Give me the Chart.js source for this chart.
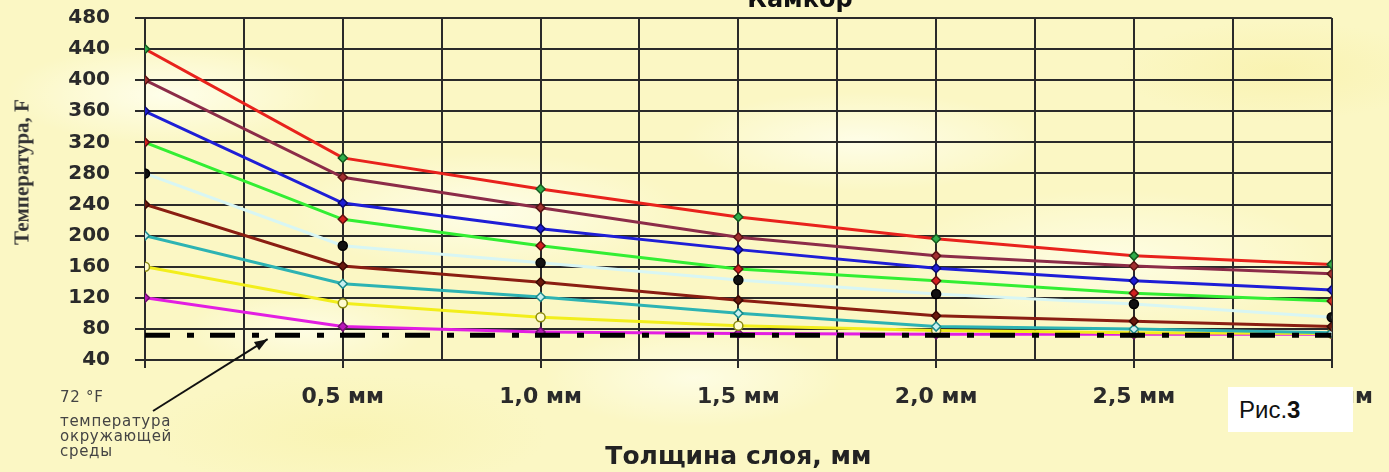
<!DOCTYPE html>
<html>
<head>
<meta charset="utf-8">
<script src="https://cdn.jsdelivr.net/npm/chart.js@4/dist/chart.umd.min.js"></script>
<style>
  html, body { margin: 0; padding: 0; }
  body {
    width: 1389px; height: 472px; overflow: hidden; position: relative;
    background-color: #fbf7c4;
    background-image:
      radial-gradient(ellipse 160px 50px at 12% 20%, rgba(255,255,238,0.9), transparent),
      radial-gradient(ellipse 200px 60px at 35% 45%, rgba(255,255,240,0.8), transparent),
      radial-gradient(ellipse 180px 50px at 62% 30%, rgba(255,255,240,0.8), transparent),
      radial-gradient(ellipse 220px 70px at 80% 55%, rgba(255,255,235,0.8), transparent),
      radial-gradient(ellipse 150px 50px at 50% 80%, rgba(255,255,240,0.7), transparent),
      radial-gradient(ellipse 120px 40px at 22% 70%, rgba(255,255,240,0.7), transparent),
      radial-gradient(ellipse 200px 60px at 25% 92%, rgba(248,242,170,0.6), transparent),
      radial-gradient(ellipse 160px 50px at 92% 15%, rgba(248,240,165,0.6), transparent);
  }
  canvas { position: absolute; left: 0; top: 0; }
  #title {
    position: absolute; top: -15px; left: 0; width: 1600px; text-align: center;
    font: bold 24px "DejaVu Sans", Arial, sans-serif; color: #111;
  }
  #ytitle {
    position: absolute; left: 22px; top: 172px; white-space: nowrap;
    transform: translate(-50%, -50%) rotate(-90deg);
    font: bold 21px "Liberation Serif", "Times New Roman", serif; color: #333;
  }
  #fig {
    position: absolute; left: 1228px; top: 387px; width: 125px; height: 45px;
    background: #fff; font: 24px Arial, "Liberation Sans", sans-serif; color: #111;
    box-sizing: border-box; padding: 9px 0 0 11px;
  }
  #note {
    position: absolute; left: 60px; top: 390px;
    font: 15px "DejaVu Sans", Arial, sans-serif; color: #444; line-height: 15px;
    letter-spacing: 0.7px;
  }
  #note .first { display: block; margin-bottom: 9px; }
</style>
</head>
<body>
<canvas id="chart" width="1389" height="472"></canvas>
<div id="title">Камкор</div>
<div id="ytitle">Температура, F</div>
<div id="note"><span class="first">72 °F</span>температура<br>окружающей<br>среды</div>
<div id="fig">Рис.<b>3</b></div>
<script>
// --- data ---
const thickness = [0, 0.5, 1.0, 1.5, 2.0, 2.5, 3.0];
const xTickLabels = ['', '0,5 мм', '1,0 мм', '1,5 мм', '2,0 мм', '2,5 мм', '3,0 мм'];
const s440 = [440, 300, 260, 224, 196, 174, 163];
const s400 = [400, 275, 236, 198, 174, 161, 151];
const s360 = [360, 242, 209, 182, 158, 142, 130];
const s320 = [320, 221, 187, 157, 142, 126, 116];
const s280 = [280, 187, 165, 143, 125, 112, 95];
const s240 = [240, 161, 140, 117, 97, 90, 83];
const s200 = [200, 138, 121, 100, 83, 80, 75];
const s160 = [160, 113, 95, 84, 78, 75, 74];
const s120 = [120, 83, 76, 74, 73, 73, 73];
const ambient = [72, 72];
const ambientX = [0, 3.0];

const pts = (xs, ys) => ys.map((y, i) => ({ x: xs[i], y: y }));

function series(values, line, fill, border, style) {
  return {
    data: pts(thickness, values),
    borderColor: line,
    borderWidth: 3,
    pointStyle: style || 'rectRot',
    pointRadius: 4.5,
    pointBackgroundColor: fill,
    pointBorderColor: border,
    pointBorderWidth: 1.5,
    tension: 0,
    order: 1
  };
}

// arrow from the note to the ambient line
const arrowPlugin = {
  id: 'arrow',
  afterDatasetsDraw(chart) {
    const ctx = chart.ctx;
    const x2 = chart.scales.x.getPixelForValue(0.31);
    const y2 = chart.scales.y.getPixelForValue(ambient[0]) + 4;
    const x1 = 153, y1 = 411;
    ctx.save();
    ctx.strokeStyle = '#111';
    ctx.fillStyle = '#111';
    ctx.lineWidth = 2;
    ctx.beginPath();
    ctx.moveTo(x1, y1);
    ctx.lineTo(x2, y2);
    ctx.stroke();
    const a = Math.atan2(y2 - y1, x2 - x1);
    ctx.beginPath();
    ctx.moveTo(x2, y2);
    ctx.lineTo(x2 - 14 * Math.cos(a - 0.35), y2 - 14 * Math.sin(a - 0.35));
    ctx.lineTo(x2 - 14 * Math.cos(a + 0.35), y2 - 14 * Math.sin(a + 0.35));
    ctx.closePath();
    ctx.fill();
    ctx.restore();
  }
};

document.addEventListener('DOMContentLoaded', () => {
  const ctx = document.getElementById('chart').getContext('2d');

  new Chart(ctx, {
    type: 'line',
    data: {
      datasets: [
        {
          data: pts(ambientX, ambient),
          borderColor: '#000',
          borderWidth: 5,
          borderDash: [25, 17, 7, 16],
          pointRadius: 0,
          order: 0
        },
        series(s440, '#e8221c', '#2fae4a', '#145a1e'),
        series(s400, '#8c2c48', '#a33030', '#5a1414'),
        series(s360, '#1e1ed6', '#1e1ed6', '#0a0a6e'),
        series(s320, '#33ee33', '#d42020', '#601010'),
        series(s280, '#d8f6f4', '#111', '#000', 'circle'),
        series(s240, '#8a1e12', '#6a1a0e', '#3a0a04'),
        series(s200, '#2db3b3', '#c8f0f0', '#1a8a8a'),
        series(s160, '#f2ee1c', '#fffbd0', '#8a8a10', 'circle'),
        series(s120, '#e21ee2', '#b818b8', '#701070')
      ]
    },
    options: {
      responsive: false,
      animation: false,
      layout: { padding: { left: 0, right: 56, top: 18, bottom: 0 } },
      plugins: { legend: { display: false }, tooltip: { enabled: false } },
      scales: {
        x: {
          type: 'linear',
          min: 0,
          max: 3.0,
          afterFit: (s) => { s.height = 112; },
          grid: {
            color: '#2a2a2a',
            lineWidth: 2,
            tickLength: 8,
            tickColor: (c) => (c.tick && (c.tick.value * 2) % 1 === 0 ? '#2a2a2a' : 'rgba(0,0,0,0)')
          },
          border: { color: '#2a2a2a', width: 2 },
          ticks: {
            stepSize: 0.25,
            autoSkip: false,
            maxRotation: 0,
            padding: 16,
            color: '#2a2a2a',
            font: { family: '"DejaVu Sans", Arial, sans-serif', size: 22, weight: 'bold' },
            callback: (v) => ((v * 2) % 1 === 0 ? xTickLabels[Math.round(v * 2)] : '')
          },
          title: {
            display: true,
            text: 'Толщина слоя, мм',
            color: '#222',
            font: { family: '"DejaVu Sans", Arial, sans-serif', size: 25, weight: 'bold' },
            padding: { top: 0, bottom: 0 }
          }
        },
        y: {
          min: 40,
          max: 480,
          afterFit: (s) => { s.width = 145; s.paddingTop = 0; s.paddingBottom = 0; },
          grid: { color: '#2a2a2a', lineWidth: 2, tickLength: 10 },
          border: { color: '#2a2a2a', width: 2 },
          ticks: {
            stepSize: 40,
            padding: 25,
            color: '#2a2a2a',
            font: { family: '"DejaVu Sans", Arial, sans-serif', size: 20, weight: 'bold' }
          }
        }
      }
    },
    plugins: [arrowPlugin]
  });
});
</script>
</body>
</html>
